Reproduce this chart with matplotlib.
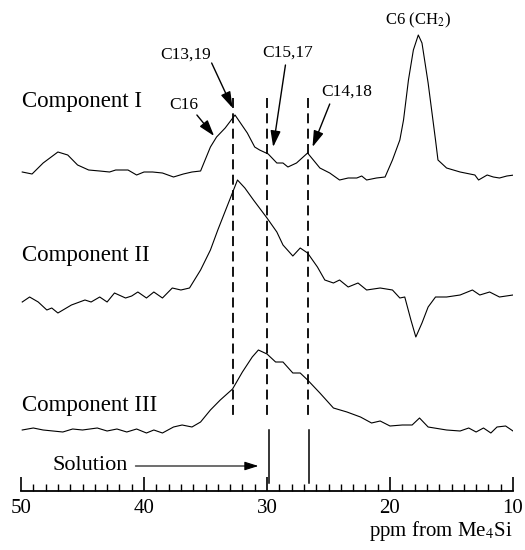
import numpy as np
import matplotlib
matplotlib.use("Agg")
import matplotlib.pyplot as plt

plt.rcParams['font.family'] = ['Liberation Serif', 'DejaVu Serif']
plt.rcParams['mathtext.fontset'] = 'stix'

# spectra: ppm and intensity (arbitrary units, baseline = 0)
ppm_1 = [49.9, 49.1, 48.2, 47.0, 46.2, 45.4, 44.5, 43.6, 42.8, 42.3, 41.3, 40.6, 40.0, 39.3,
         38.5, 37.6, 36.8, 36.1, 35.4, 34.6, 34.1, 33.4, 32.6, 31.6, 31.0, 30.6, 29.9, 29.2,
         28.7, 28.3, 27.6, 26.7, 25.7, 24.9, 24.1, 23.4, 22.7, 22.3, 21.9, 21.1, 20.4, 19.8,
         19.2, 18.9, 18.5, 18.1, 17.7, 17.4, 16.9, 16.3, 16.1, 15.4, 14.3, 13.1, 12.8, 12.1,
         11.6, 11.1, 10.5, 9.9]
int_1 = [4, 2, 13, 24, 21, 11, 6, 5, 4, 6, 6, 1, 4, 4,
         3, -1, 2, 4, 5, 29, 39, 48, 61, 43, 29, 26, 22, 13,
         13, 9, 13, 23, 8, 3, -4, -2, -2, 0, -4, -2, -1, 16,
         36, 56, 96, 126, 141, 133, 93, 36, 16, 8, 4, 1, -4, 1,
         -1, -2, 0, 1]

ppm_2 = [49.9, 49.3, 48.6, 47.9, 47.5, 47.0, 45.9, 44.8, 44.3, 43.6, 43.0, 42.4, 41.5, 41.0,
         40.5, 39.8, 39.2, 38.5, 37.7, 37.0, 36.3, 35.4, 34.6, 34.0, 33.2, 32.4, 31.8, 31.1,
         30.0, 29.2, 28.7, 27.9, 27.3, 26.7, 25.9, 25.3, 24.6, 24.1, 23.4, 22.6, 21.9, 20.8,
         19.8, 19.2, 18.8, 18.3, 17.9, 17.4, 16.9, 16.3, 15.4, 14.3, 13.3, 12.7, 11.9, 11.1, 10.0]
int_2 = [-2, 3, -2, -10, -8, -13, -5, 0, -2, 3, -2, 7, 2, 4,
         8, 2, 8, 2, 12, 10, 12, 30, 50, 70, 95, 120, 112, 100,
         82, 68, 55, 44, 52, 47, 33, 20, 17, 20, 13, 17, 10, 12,
         10, 2, 3, -20, -37, -23, -7, 3, 3, 5, 10, 5, 8, 3, 5]

ppm_3 = [49.9, 49.0, 48.2, 47.4, 46.6, 45.8, 45.0, 43.8, 43.0, 42.2, 41.4, 40.6, 39.8, 39.2,
         38.5, 37.6, 36.9, 36.1, 35.4, 34.6, 33.8, 32.8, 32.0, 31.2, 30.7, 30.0, 29.3, 28.7,
         27.9, 27.3, 26.7, 25.7, 24.6, 23.5, 22.4, 21.5, 20.8, 20.0, 19.0, 18.2, 17.6, 16.9,
         15.4, 14.3, 13.6, 13.0, 12.4, 11.8, 11.3, 10.6, 10.0]
int_3 = [0, 2, 0, -1, -2, 1, 0, 2, -1, 1, -2, 1, -3, 0,
         -3, 3, 5, 3, 8, 20, 30, 41, 58, 73, 80, 76, 68, 68,
         57, 57, 50, 37, 22, 18, 13, 7, 9, 4, 5, 5, 12, 3,
         0, -1, 2, -2, 2, -3, 3, 4, -1]

components = ["Component I", "Component II", "Component III"]
dashed_ppm = [32.75, 30.0, 26.7]
solution_ppm = [29.8, 26.6]

peak_labels = ["C16", "C13,19", "C15,17", "C14,18"]
label_xy = [(36.8, 105), (36.6, 55), (28.3, 53), (23.5, 92)]
arrow_from = [(35.7, 115), (34.5, 63), (28.5, 65), (24.9, 104)]
arrow_to = [(34.3, 136), (32.8, 108), (29.5, 147), (26.3, 147)]

# layout, in pixel rows of the 525x550 canvas
baselines = [176, 300, 430]
name_y = [102, 255, 406]
axis_y = 491

fig = plt.figure(figsize=(5.25, 5.5), dpi=100)
ax = fig.add_axes([21/525, 0, 492/525, 1])
ax.set_xlim(50, 10)
ax.set_ylim(550, 0)

for ppm, inten, base, name, ny in zip([ppm_1, ppm_2, ppm_3], [int_1, int_2, int_3],
                                      baselines, components, name_y):
	ax.plot(ppm, base - np.array(inten), color="black", lw=0.8)
	ax.text(49.9, ny, name, fontsize=16.5, ha="left", va="center")

for p in dashed_ppm:
	ax.plot([p, p], [98, 418], color="black", lw=1.3, ls=(0, (5.5, 3)))
for p in solution_ppm:
	ax.plot([p, p], [430, 483], color="black", lw=1.1)

arrow_style = "-|>,head_length=0.7,head_width=0.22"
for lab, xy, a0, a1 in zip(peak_labels, label_xy, arrow_from, arrow_to):
	ax.text(xy[0], xy[1], lab, fontsize=12.5, ha="center", va="center")
	ax.annotate("", xy=a1, xytext=a0,
		arrowprops=dict(arrowstyle=arrow_style, color="black", lw=1.0,
		                mutation_scale=14, shrinkA=0, shrinkB=0))

ax.text(17.7, 20, "C6 (CH$_2$)", fontsize=12, ha="center", va="center")

ax.text(44.4, 466, "Solution", fontsize=16, ha="center", va="center")
ax.annotate("", xy=(30.7, 466), xytext=(40.7, 466),
	arrowprops=dict(arrowstyle=arrow_style, color="black", lw=0.8,
	                mutation_scale=12, shrinkA=0, shrinkB=0))

# ppm scale
for s in ["left", "right", "top"]:
	ax.spines[s].set_visible(False)
ax.spines["bottom"].set_position(("data", axis_y))
ax.spines["bottom"].set_linewidth(1.3)
ax.set_xticks([50, 40, 30, 20, 10])
ax.set_xticks(np.arange(10, 51, 1), minor=True)
ax.tick_params(axis="x", which="major", direction="in", length=10, width=1.2,
               labelsize=15, pad=6)
ax.tick_params(axis="x", which="minor", direction="in", length=5, width=1.0)
ax.set_yticks([])
ax.text(10, 531, "ppm from Me$_4$Si", fontsize=15, ha="right", va="center")

fig.savefig("out.png", dpi=100)
